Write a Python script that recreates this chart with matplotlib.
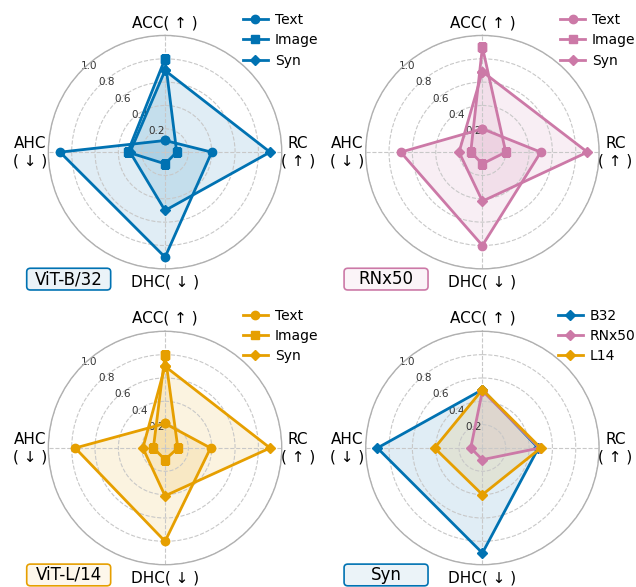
import numpy as np
import matplotlib.pyplot as plt
from matplotlib.patches import FancyBboxPatch

# axes of the radar (clockwise from top)
axis_labels = ['ACC( ↑ )', 'RC\n( ↑ )', 'DHC( ↓ )', 'AHC\n( ↓ )']
label_r = [1.11, 1.14, 1.11, 1.16]

# ViT-B/32
vitb_text = [0.10, 0.40, 0.90, 0.90]
vitb_image = [0.80, 0.10, 0.10, 0.32]
vitb_syn = [0.70, 0.90, 0.50, 0.30]

# RNx50
rn_text = [0.20, 0.50, 0.80, 0.70]
rn_image = [0.90, 0.20, 0.10, 0.10]
rn_syn = [0.69, 0.90, 0.42, 0.20]

# ViT-L/14
vitl_text = [0.21, 0.39, 0.80, 0.77]
vitl_image = [0.80, 0.11, 0.10, 0.10]
vitl_syn = [0.70, 0.90, 0.41, 0.19]

# Syn across backbones
syn_b32 = [0.50, 0.48, 0.90, 0.90]
syn_rn = [0.49, 0.49, 0.10, 0.10]
syn_l14 = [0.50, 0.50, 0.40, 0.41]

blue = '#0072B2'
pink = '#CC79A7'
orange = '#E69F00'

angles = np.linspace(0, 2 * np.pi, len(axis_labels), endpoint=False)
angles_closed = np.append(angles, angles[0])

fig = plt.figure(figsize=(6.36, 5.87), dpi=100)

# axes rectangles [left, bottom, width, height] in figure fraction
w, h = 0.367, 0.3976
rects = [[0.076, 0.542, w, h], [0.575, 0.542, w, h],
         [0.076, 0.038, w, h], [0.575, 0.038, w, h]]

panels = [
    ('ViT-B/32', [('Text', vitb_text, 'o', blue), ('Image', vitb_image, 's', blue), ('Syn', vitb_syn, 'D', blue)], blue),
    ('RNx50', [('Text', rn_text, 'o', pink), ('Image', rn_image, 's', pink), ('Syn', rn_syn, 'D', pink)], pink),
    ('ViT-L/14', [('Text', vitl_text, 'o', orange), ('Image', vitl_image, 's', orange), ('Syn', vitl_syn, 'D', orange)], orange),
    ('Syn', [('B32', syn_b32, 'D', blue), ('RNx50', syn_rn, 'D', pink), ('L14', syn_l14, 'D', orange)], blue),
]

for rect, (title, series, box_color) in zip(rects, panels):
    ax = fig.add_axes(rect, projection='polar')
    ax.set_theta_offset(np.pi / 2)
    ax.set_theta_direction(-1)
    ax.set_ylim(0, 1.0)
    ax.set_rticks([0.2, 0.4, 0.6, 0.8, 1.0])
    ax.set_yticklabels(['0.2', '0.4', '0.6', '0.8', '1.0'], fontsize=7.5, color='#333333')
    ax.set_rlabel_position(314)
    ax.set_xticks(angles)
    ax.set_xticklabels([])
    for ang, lab, r in zip(angles, axis_labels, label_r):
        ax.text(ang, r, lab, ha='center', va='center', fontsize=11, clip_on=False)
    ax.grid(True, linestyle='--', color='#c8c8c8', linewidth=0.8)
    ax.spines['polar'].set_color('#b0b0b0')
    ax.spines['polar'].set_linewidth(1.0)

    for name, vals, mk, col in series:
        v = np.append(vals, vals[0])
        ax.plot(angles_closed, v, color=col, linewidth=2, marker=mk,
                markersize=6 if mk != 'D' else 5.5, label=name)
        ax.fill(angles_closed, v, color=col, alpha=0.12)

    ax.legend(loc='upper right', bbox_to_anchor=(1.18, 1.12), frameon=False,
              fontsize=10, handlelength=1.8, labelspacing=0.45, handletextpad=0.5,
              borderaxespad=0)

    # model name box at lower left of the panel
    l, b = rect[0], rect[1]
    bx, by, bw, bh = l - 0.034, b - 0.036, 0.132, 0.037
    fig.patches.append(FancyBboxPatch((bx, by), bw, bh, boxstyle='round,pad=0,rounding_size=0.006',
                                      transform=fig.transFigure, facecolor=box_color, alpha=0.08,
                                      edgecolor='none', zorder=1))
    fig.patches.append(FancyBboxPatch((bx, by), bw, bh, boxstyle='round,pad=0,rounding_size=0.006',
                                      transform=fig.transFigure, facecolor='none',
                                      edgecolor=box_color, linewidth=1.2, zorder=2))
    fig.text(bx + bw / 2, by + bh / 2, title, ha='center', va='center', fontsize=12, zorder=3)

plt.savefig('out.png', dpi=100)
